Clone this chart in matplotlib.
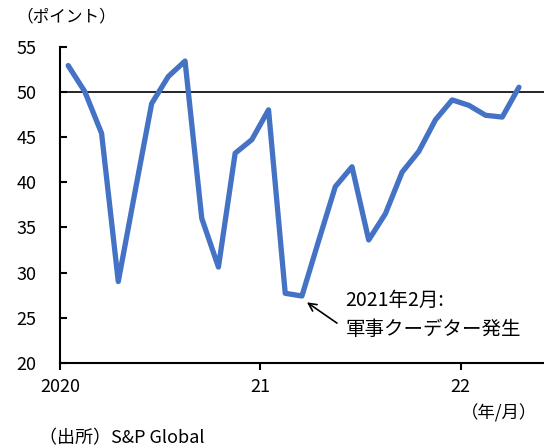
import numpy as np
import matplotlib.pyplot as plt

plt.rcParams['font.family'] = ['Noto Sans CJK JP', 'DejaVu Sans']

# Myanmar manufacturing PMI, Jan 2020 - Apr 2022
pmi = [52.9, 50.0, 45.4, 29.0, 38.9, 48.7, 51.7, 53.4, 36.0, 30.6, 43.2, 44.7,
       48.0, 27.7, 27.4, 33.5, 39.5, 41.7, 33.6, 36.5, 41.1, 43.4, 46.9, 49.1,
       48.5, 47.4, 47.2, 50.5]
tick_pos = [0, 12, 24]
tick_labels = ['2020', '21', '22']
y_ticks = [20, 25, 30, 35, 40, 45, 50, 55]

x = np.arange(len(pmi)) + 0.5

fig = plt.figure(figsize=(5.44, 4.48), dpi=100)
ax = fig.add_axes([0.110, 0.190, 0.890, 0.706])

ax.plot(x, pmi, color='#4472C4', linewidth=3.8, solid_joinstyle='round',
        solid_capstyle='round', zorder=3)
ax.axhline(50, color='black', linewidth=1.2, zorder=2)

ax.set_xlim(0, 29)
ax.set_ylim(20, 55)
ax.set_yticks(y_ticks)
ax.set_xticks(tick_pos)
ax.set_xticklabels(tick_labels)

for side in ['top', 'right']:
    ax.spines[side].set_visible(False)
for side in ['left', 'bottom']:
    ax.spines[side].set_linewidth(1.5)
ax.tick_params(axis='y', direction='in', length=5, width=1.5, labelsize=13, pad=17)
ax.tick_params(axis='x', direction='out', length=5, width=1.5, labelsize=13, pad=6)

# annotation: arrow and text
ax.annotate('', xy=(14.8, 26.7), xytext=(16.6, 24.4),
            arrowprops=dict(arrowstyle='->', color='black', lw=1.2,
                            shrinkA=0, shrinkB=0, mutation_scale=14))
ax.text(17.1, 25.3, '2021年2月:\n軍事クーデター発生', fontsize=14,
        ha='left', va='center', linespacing=1.45)

fig.text(0.030, 0.962, '（ポイント）', fontsize=12, ha='left', va='center')
fig.text(0.988, 0.078, '（年/月）', fontsize=12.5, ha='right', va='center')
fig.text(0.072, 0.022, '（出所）S&P Global', fontsize=13, ha='left', va='center')

fig.savefig('out.png', dpi=100)
